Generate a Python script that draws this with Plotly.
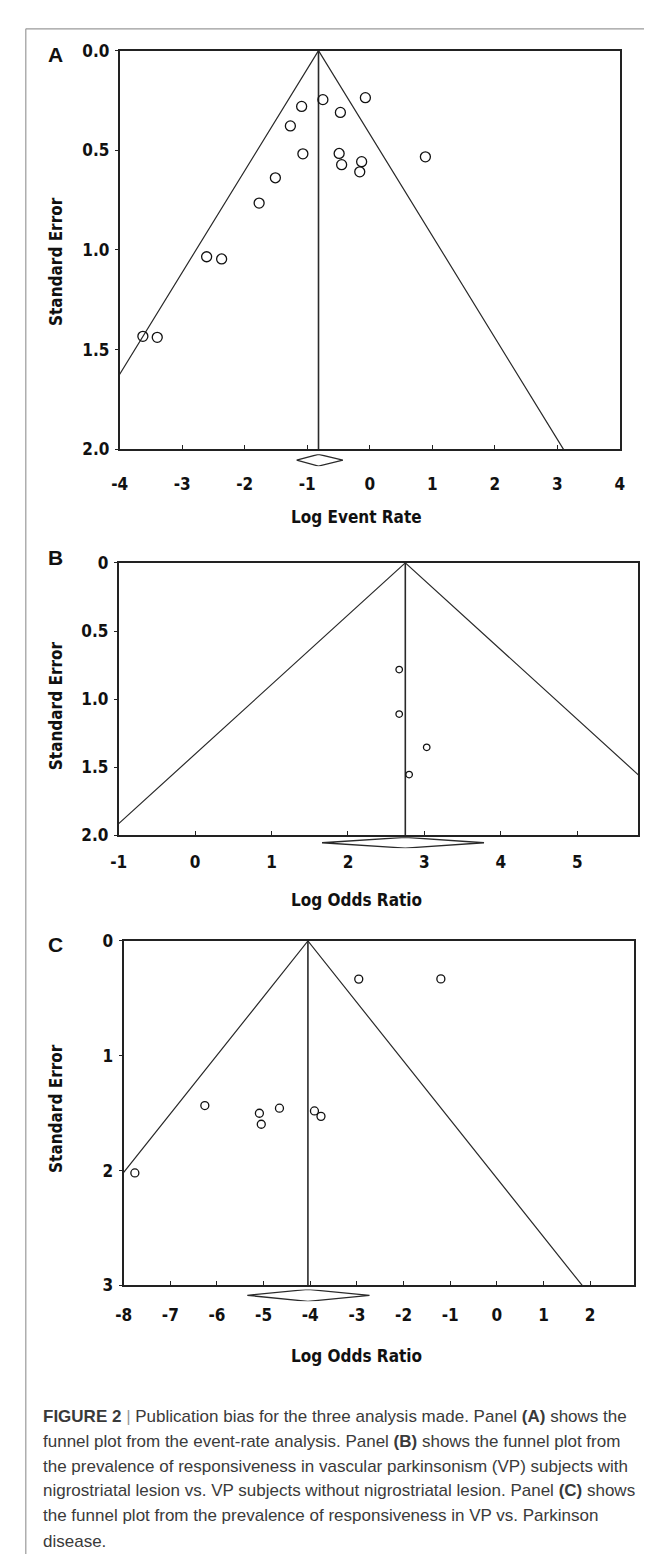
import plotly.graph_objects as go

W, H = 652, 1556

# ---------------- data ----------------
# Panel A: log event rate vs standard error
a_effect = [-0.75, -0.07, -1.09, -0.47, -1.27, -1.07, -0.49, -0.45, -0.13, -0.16,
            0.89, -1.51, -1.77, -2.61, -2.37, -3.63, -3.40]
a_se = [0.246, 0.236, 0.280, 0.310, 0.378, 0.518, 0.516, 0.572, 0.557, 0.608,
        0.533, 0.638, 0.765, 1.034, 1.045, 1.433, 1.438]
a_pooled = -0.82
a_ci = [-1.17, -0.43]
a_xticks = [-4, -3, -2, -1, 0, 1, 2, 3, 4]
a_yticks = [0, 0.5, 1.0, 1.5, 2.0]
a_yticktext = ["0.0", "0.5", "1.0", "1.5", "2.0"]

# Panel B: log odds ratio vs standard error
b_effect = [2.67, 2.67, 3.03, 2.80]
b_se = [0.783, 1.110, 1.354, 1.554]
b_pooled = 2.75
b_ci = [1.66, 3.78]
b_xticks = [-1, 0, 1, 2, 3, 4, 5]
b_yticks = [0, 0.5, 1.0, 1.5, 2.0]
b_yticktext = ["0", "0.5", "1.0", "1.5", "2.0"]

# Panel C: log odds ratio vs standard error
c_effect = [-2.96, -1.20, -6.26, -5.09, -5.05, -4.66, -3.91, -3.77, -7.76]
c_se = [0.332, 0.330, 1.433, 1.500, 1.596, 1.456, 1.480, 1.527, 2.020]
c_pooled = -4.05
c_ci = [-5.35, -2.73]
c_xticks = [-8, -7, -6, -5, -4, -3, -2, -1, 0, 1, 2]
c_yticks = [0, 1, 2, 3]
c_yticktext = ["0", "1", "2", "3"]

Z = 1.96

caption_lines = [
    "<b>FIGURE 2</b> <span style='color:#999'>|</span> Publication bias for the three analysis made. Panel <b>(A)</b> shows the",
    "funnel plot from the event-rate analysis. Panel <b>(B)</b> shows the funnel plot from",
    "the prevalence of responsiveness in vascular parkinsonism (VP) subjects with",
    "nigrostriatal lesion vs. VP subjects without nigrostriatal lesion. Panel <b>(C)</b> shows",
    "the funnel plot from the prevalence of responsiveness in VP vs. Parkinson",
    "disease.",
]

# ---------------- layout helpers ----------------
def fx(px):
    return px / W

def fy(py):
    return 1 - py / H

AXFONT = dict(family="Liberation Sans Narrow, DejaVu Sans Condensed, Arial Narrow, sans-serif",
              size=17, color="#111", weight="bold")
TITLEFONT = dict(family="Liberation Sans Narrow, DejaVu Sans Condensed, Arial Narrow, sans-serif",
                 size=17, color="#111", weight="bold")

panels = [
    dict(eff=a_effect, se=a_se, pooled=a_pooled, ci=a_ci, xr=[-4, 4], ymax=2.0,
         xt=a_xticks, yt=a_yticks, ytt=a_yticktext, frame=(105, 616, 33, 437),
         dia=(442, 454), ms=10, letter="A", letter_y=37, xtitle="Log Event Rate",
         xtitle_y=506, standoff=18, ytitle_y=247),
    dict(eff=b_effect, se=b_se, pooled=b_pooled, ci=b_ci, xr=[-1, 5.8], ymax=2.0,
         xt=b_xticks, yt=b_yticks, ytt=b_yticktext, frame=(104, 635, 552, 828),
         dia=(830, 841), ms=6.5, letter="B", letter_y=547, xtitle="Log Odds Ratio",
         xtitle_y=893, standoff=10, ytitle_y=697),
    dict(eff=c_effect, se=c_se, pooled=c_pooled, ci=c_ci, xr=[-8, 2.95], ymax=3.0,
         xt=c_xticks, yt=c_yticks, ytt=c_yticktext, frame=(109, 631, 935, 1284),
         dia=(1288, 1300), ms=8, letter="C", letter_y=939, xtitle="Log Odds Ratio",
         xtitle_y=1355, standoff=13, ytitle_y=1105),
]

fig = go.Figure()
layout = dict(width=W, height=H, autosize=False, margin=dict(l=0, r=0, t=0, b=0),
              paper_bgcolor="white", plot_bgcolor="white", showlegend=False)
annotations = []

LINEC = "#2a2a2a"

for i, p in enumerate(panels):
    n = i + 1
    xa = "x" if n == 1 else f"x{n}"
    ya = "y" if n == 1 else f"y{n}"
    yd = f"y{n + 3}"  # diamond strip axis
    l, r, t, b = p["frame"]
    ymax = p["ymax"]
    pooled = p["pooled"]

    # funnel lines (pseudo 95% limits)
    fig.add_trace(go.Scatter(
        x=[pooled - Z * ymax, pooled, pooled + Z * ymax], y=[ymax, 0, ymax],
        mode="lines", line=dict(color=LINEC, width=1.2), xaxis=xa, yaxis=ya,
        hoverinfo="skip"))
    # pooled estimate vertical line
    fig.add_trace(go.Scatter(
        x=[pooled, pooled], y=[0, ymax], mode="lines",
        line=dict(color=LINEC, width=1.6), xaxis=xa, yaxis=ya, hoverinfo="skip"))
    # studies
    fig.add_trace(go.Scatter(
        x=p["eff"], y=p["se"], mode="markers",
        marker=dict(symbol="circle-open", size=p["ms"], color="#111",
                    line=dict(width=1.3, color="#111")),
        xaxis=xa, yaxis=ya, cliponaxis=False))
    # summary diamond
    lo, hi = p["ci"]
    fig.add_trace(go.Scatter(
        x=[lo, pooled, hi, pooled, lo], y=[0, 1, 0, -1, 0], mode="lines",
        line=dict(color=LINEC, width=1.3), xaxis=xa, yaxis=yd, hoverinfo="skip"))

    xkey = "xaxis" if n == 1 else f"xaxis{n}"
    ykey = "yaxis" if n == 1 else f"yaxis{n}"
    layout[xkey] = dict(
        domain=[fx(l), fx(r)], anchor=ya, range=p["xr"], tickvals=p["xt"],
        ticktext=[str(v) for v in p["xt"]], showgrid=False, zeroline=False,
        showline=True, linecolor="#222", linewidth=2, mirror=True,
        ticks="inside", ticklen=4, tickwidth=1.2, tickcolor="#222",
        tickfont=AXFONT, ticklabelstandoff=p["standoff"])
    layout[ykey] = dict(
        domain=[fy(b), fy(t)], anchor=xa, range=[ymax, 0], tickvals=p["yt"],
        ticktext=p["ytt"], showgrid=False, zeroline=False,
        showline=True, linecolor="#222", linewidth=2, mirror=True,
        ticks="outside", ticklen=3, tickwidth=1, tickcolor="#222",
        tickfont=AXFONT, ticklabelstandoff=2)
    dt, db = p["dia"]
    layout[f"yaxis{n + 3}"] = dict(domain=[fy(db), fy(dt)], anchor=xa, range=[-1, 1],
                                    visible=False, fixedrange=True)

    # panel letter
    annotations.append(dict(text=f"<b>{p['letter']}</b>", x=fx(39), y=fy(p["letter_y"]),
                            xref="paper", yref="paper", showarrow=False,
                            xanchor="center", yanchor="middle",
                            font=dict(family="Liberation Sans, Arial, sans-serif",
                                      size=21, color="#111")))
    # axis titles
    annotations.append(dict(text="Standard Error", x=fx(40), y=fy(p["ytitle_y"]),
                            xref="paper", yref="paper", showarrow=False, textangle=-90,
                            xanchor="center", yanchor="middle", font=TITLEFONT))
    annotations.append(dict(text=p["xtitle"], x=fx(347), y=fy(p["xtitle_y"]),
                            xref="paper", yref="paper", showarrow=False,
                            xanchor="center", yanchor="middle", font=TITLEFONT))

# caption
cap_y = [1417, 1442, 1467, 1492, 1517, 1543]
for line, yy in zip(caption_lines, cap_y):
    annotations.append(dict(text=line, x=fx(25), y=fy(yy), xref="paper", yref="paper",
                            showarrow=False, xanchor="left", yanchor="middle",
                            font=dict(family="Liberation Sans, Arial, sans-serif",
                                      size=17, color="#3a3a3a")))

layout["annotations"] = annotations
layout["shapes"] = [
    dict(type="line", xref="paper", yref="paper", x0=fx(9), x1=1, y0=fy(11), y1=fy(11),
         line=dict(color="#9a9a9a", width=1.2)),
    dict(type="line", xref="paper", yref="paper", x0=fx(9), x1=fx(9), y0=fy(11), y1=0,
         line=dict(color="#9a9a9a", width=1.2)),
]

fig.update_layout(**layout)
fig.write_html("out.html")
